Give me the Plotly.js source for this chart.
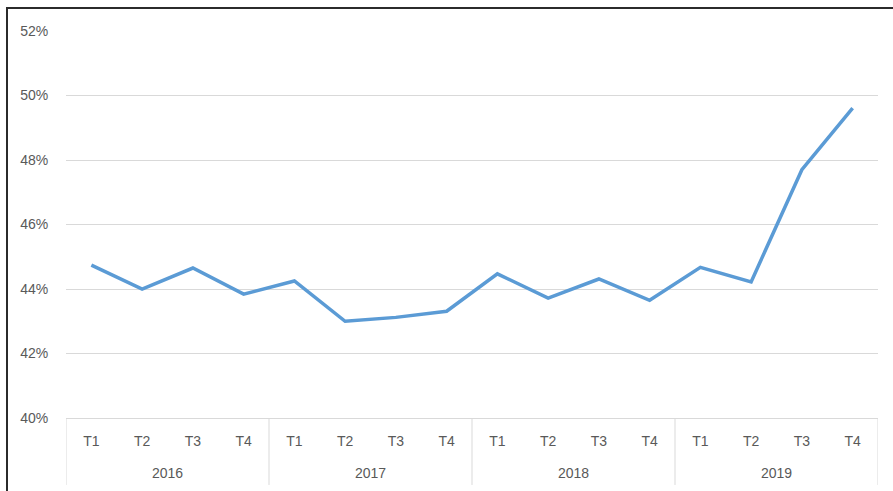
<!DOCTYPE html>
<html>
<head>
<meta charset="utf-8">
<script src="https://cdn.plot.ly/plotly-3.0.1.min.js"></script>
<style>
  html, body { margin: 0; padding: 0; background: #fff; overflow: hidden; }
  #chart { width: 893px; height: 491px; }
  #frame { position: absolute; left: 6px; top: 7px; width: 1000px; height: 1000px; border: 2.5px solid #2b2b2b; pointer-events: none; }
</style>
</head>
<body>
<div id="chart"></div>
<div id="frame"></div>
<script>
var years = ['2016','2016','2016','2016','2017','2017','2017','2017','2018','2018','2018','2018','2019','2019','2019','2019'];
var quarters = ['T1','T2','T3','T4','T1','T2','T3','T4','T1','T2','T3','T4','T1','T2','T3','T4'];
var values = [0.4474, 0.4400, 0.4465, 0.4384, 0.4425, 0.4300, 0.4312, 0.4331, 0.4447, 0.4372, 0.4431, 0.4365, 0.4467, 0.4422, 0.4770, 0.4961];
var yTicks = [0.40, 0.42, 0.44, 0.46, 0.48, 0.50, 0.52];

// positions along the category axis derived from the data arrays
var idx = quarters.map(function (q, i) { return i; });

// group years: find start/end index of each year
var groups = [];
years.forEach(function (y, i) {
  if (!groups.length || groups[groups.length - 1].name !== y) {
    groups.push({ name: y, start: i, end: i });
  } else {
    groups[groups.length - 1].end = i;
  }
});

var gridCol = '#d9d9d9';
var textCol = '#595959';

var annotations = groups.map(function (g) {
  return {
    xref: 'x', yref: 'paper',
    x: (g.start + g.end) / 2, y: -0.142,
    xanchor: 'center', yanchor: 'middle',
    text: g.name, showarrow: false,
    font: { size: 14, color: textCol }
  };
});

var boundaries = [groups[0].start - 0.5].concat(groups.map(function (g) { return g.end + 0.5; }));
var shapes = boundaries.map(function (b) {
  return {
    type: 'line', xref: 'x', yref: 'paper',
    x0: b, x1: b, y0: 0, y1: -0.173,
    line: { color: gridCol, width: 1 },
    layer: 'below'
  };
});

var trace = {
  type: 'scatter',
  mode: 'lines',
  x: idx,
  y: values,
  line: { color: '#5B9BD5', width: 3.5 },
  hoverinfo: 'skip'
};

var layout = {
  width: 893,
  height: 491,
  margin: { l: 66, r: 15, t: 31, b: 73 },
  paper_bgcolor: '#ffffff',
  plot_bgcolor: '#ffffff',
  showlegend: false,
  font: { family: 'Liberation Sans, Arial, sans-serif', size: 14, color: textCol },
  xaxis: {
    range: [-0.5, 15.5],
    tickvals: idx,
    ticktext: quarters,
    showgrid: false,
    showline: true,
    linecolor: gridCol,
    linewidth: 1,
    ticks: '',
    ticklabelstandoff: 10,
    tickfont: { size: 14, color: textCol },
    zeroline: false
  },
  yaxis: {
    range: [0.40, 0.52],
    tickvals: yTicks,
    tickformat: '.0%',
    showgrid: true,
    gridcolor: gridCol,
    gridwidth: 1,
    showline: false,
    zeroline: false,
    ticks: 'outside',
    ticklen: 14,
    tickcolor: 'rgba(0,0,0,0)',
    tickfont: { size: 14, color: textCol }
  },
  annotations: annotations,
  shapes: shapes
};

Plotly.newPlot('chart', [trace], layout, { displayModeBar: false, staticPlot: true });
</script>
</body>
</html>
